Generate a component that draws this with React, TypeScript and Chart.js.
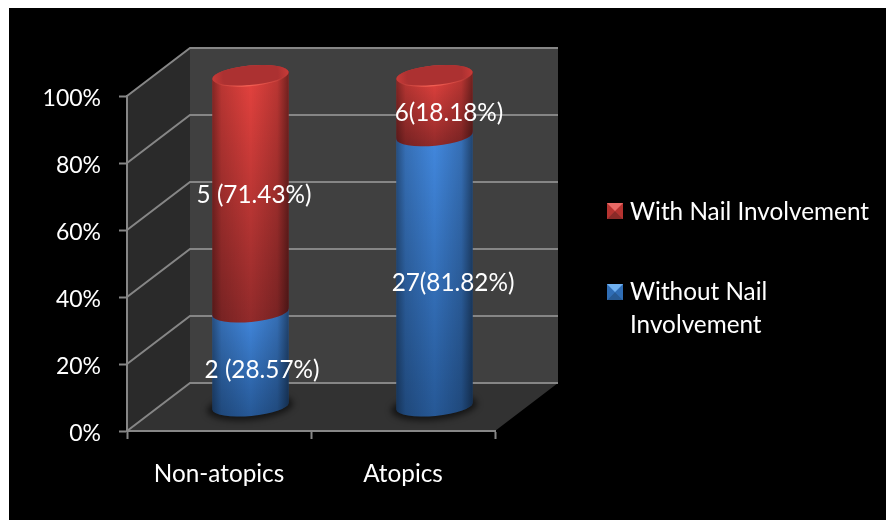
import React, { useEffect, useRef } from "react";
import { Chart, registerables } from "chart.js";

Chart.register(...registerables);

const categories = ["Non-atopics", "Atopics"];
const withoutNailPct = [28.57, 81.82];
const withNailPct = [71.43, 18.18];
const withoutNailLabels = ["2 (28.57%)", "27(81.82%)"];
const withNailLabels = ["5 (71.43%)", "6(18.18%)"];
const legendEntries = [
  { lines: ["With Nail Involvement"], tone: "red" },
  { lines: ["Without Nail", "Involvement"], tone: "blue" },
];
const yTicks = { min: 0, max: 100, step: 20 };

const FONT = "Lato, Carlito, 'Open Sans', sans-serif";
const FONT_SIZE = 24.3;
const Y_TICK_SIZE = 23;
const WIDTH = 886;
const HEIGHT = 520;

// Oblique projection of the box: how far the back wall sits from the front plane.
const DEPTH_X = 63;
const DEPTH_Y = 48;
const MID_X = 31.5;
const MID_Y = 24.5;
const RISE = 0.988;
const CAP_RY = 10;
const TILT = -0.092;

const GRID = "#868686";

const palette: any = {
  red: { top: "rgb(228,66,62)", bottom: "rgb(145,42,42)", cap: "#ac3131", rim: "#c83b38", hi: "255,105,90" },
  blue: { top: "rgb(66,136,222)", bottom: "rgb(38,88,150)", cap: "#2f6db5", rim: "#3c82d2", hi: "120,180,255" },
};

// Per-label nudges [x, y] from the middle of its segment, on the mid-depth plane.
const labelNudge = [
  [[11.5, 11], [3.5, 1]],
  [[18.5, 12], [14.5, 8]],
];

function polygon(ctx: CanvasRenderingContext2D, pts: number[][], fill: string) {
  ctx.beginPath();
  pts.forEach(([x, y], i) => (i ? ctx.lineTo(x, y) : ctx.moveTo(x, y)));
  ctx.closePath();
  ctx.fillStyle = fill;
  ctx.fill();
}

function drawBox(chart: any) {
  const { ctx, chartArea: a, scales } = chart;
  ctx.save();
  ctx.fillStyle = "#ffffff";
  ctx.fillRect(0, 0, WIDTH, HEIGHT);
  ctx.fillStyle = "#000000";
  ctx.fillRect(9, 8, WIDTH - 9, HEIGHT - 8);

  const { left: l, right: r, top: t, bottom: b } = a;
  polygon(ctx, [[l + DEPTH_X, t - DEPTH_Y], [r + DEPTH_X, t - DEPTH_Y], [r + DEPTH_X, b - DEPTH_Y], [l + DEPTH_X, b - DEPTH_Y]], "#404040");
  polygon(ctx, [[l, t], [l + DEPTH_X, t - DEPTH_Y], [l + DEPTH_X, b - DEPTH_Y], [l, b]], "#2a2a2a");
  polygon(ctx, [[l, b], [l + DEPTH_X, b - DEPTH_Y], [r + DEPTH_X, b - DEPTH_Y], [r, b]], "#323232");

  ctx.strokeStyle = GRID;
  ctx.lineWidth = 2;
  scales.y.ticks.forEach((tick: any) => {
    const y = scales.y.getPixelForValue(tick.value);
    ctx.beginPath();
    ctx.moveTo(l, y);
    ctx.lineTo(l + DEPTH_X, y - DEPTH_Y);
    ctx.lineTo(r + DEPTH_X, y - DEPTH_Y);
    ctx.stroke();
  });
  ctx.restore();
}

function drawSegment(ctx: CanvasRenderingContext2D, cx: number, yTop: number, yBase: number, width: number, tone: any, capped: boolean) {
  const rx = width / 2;
  const erx = rx / Math.cos(TILT);
  const lift = rx * Math.tan(TILT);

  const body = () => {
    ctx.beginPath();
    ctx.ellipse(cx, yBase, erx, CAP_RY, TILT, 0, Math.PI, false);
    ctx.lineTo(cx - rx, yTop - lift);
    ctx.ellipse(cx, yTop, erx, CAP_RY, TILT, Math.PI, 0, false);
    ctx.closePath();
  };

  const vertical = ctx.createLinearGradient(0, yTop, 0, yBase + CAP_RY);
  vertical.addColorStop(0, tone.top);
  vertical.addColorStop(1, tone.bottom);
  body();
  ctx.fillStyle = vertical;
  ctx.fill();

  const side = ctx.createLinearGradient(cx - rx, 0, cx + rx, 0);
  side.addColorStop(0, "rgba(0,0,0,0.42)");
  side.addColorStop(0.12, "rgba(0,0,0,0.18)");
  side.addColorStop(0.5, "rgba(0,0,0,0)");
  side.addColorStop(0.85, "rgba(0,0,0,0.18)");
  side.addColorStop(1, "rgba(0,0,0,0.5)");
  body();
  ctx.fillStyle = side;
  ctx.fill();

  if (capped) {
    const capFill = ctx.createRadialGradient(cx, yTop, 2, cx, yTop, erx);
    capFill.addColorStop(0, tone.cap);
    capFill.addColorStop(0.7, tone.cap);
    capFill.addColorStop(1, tone.rim);
    ctx.beginPath();
    ctx.ellipse(cx, yTop, erx, CAP_RY, TILT, 0, Math.PI * 2);
    ctx.fillStyle = capFill;
    ctx.fill();

    const glint = ctx.createLinearGradient(cx - rx, 0, cx + rx, 0);
    glint.addColorStop(0, `rgba(${tone.hi},0)`);
    glint.addColorStop(0.45, `rgba(${tone.hi},0.85)`);
    glint.addColorStop(1, `rgba(${tone.hi},0)`);
    ctx.beginPath();
    ctx.ellipse(cx, yTop, erx, CAP_RY, TILT, 0.25, Math.PI - 0.25, false);
    ctx.strokeStyle = glint;
    ctx.lineWidth = 1.2;
    ctx.stroke();
  }
}

function drawSwatch(ctx: CanvasRenderingContext2D, x: number, y: number, s: number, name: string) {
  const c = name === "red"
    ? { t: "#e86a66", m: "#d0413d", l: "#b53330", b: "#8a2a28" }
    : { t: "#6fb0f0", m: "#3f86d6", l: "#2f6db5", b: "#275a94" };
  const k = s / 2;
  polygon(ctx, [[x, y], [x + s, y], [x + s, y + s], [x, y + s]], c.m);
  polygon(ctx, [[x, y], [x + k, y + k], [x, y + s]], c.l);
  polygon(ctx, [[x + s, y], [x + k, y + k], [x + s, y + s]], c.l);
  polygon(ctx, [[x, y + s], [x + k, y + k], [x + s, y + s]], c.b);
  polygon(ctx, [[x, y], [x + s, y], [x + k, y + k]], c.t);
}

const cylinderPlugin = {
  id: "cylinders",
  beforeDraw: drawBox,
  beforeDatasetDraw: () => false,
  afterDatasetsDraw(chart: any) {
    const { ctx, scales } = chart;
    const zero = scales.y.getPixelForValue(0);
    const toRise = (py: number) => zero - MID_Y - (zero - py) * RISE;
    const lower = chart.getDatasetMeta(0).data;
    const upper = chart.getDatasetMeta(1).data;

    ctx.save();
    lower.forEach((bar: any) => {
      const { x, width } = bar.getProps(["x", "width"], true);
      ctx.save();
      ctx.filter = "blur(3px)";
      ctx.beginPath();
      ctx.ellipse(x + MID_X - 0.5, zero - MID_Y + 0.5, width / 2 + 5, CAP_RY + 3, TILT, 0, Math.PI * 2);
      ctx.fillStyle = "rgba(0,0,0,0.6)";
      ctx.fill();
      ctx.restore();
    });

    lower.forEach((bar: any) => {
      const p = bar.getProps(["x", "y", "base", "width"], true);
      drawSegment(ctx, p.x + MID_X, toRise(p.y), toRise(p.base), p.width, palette.blue, false);
    });
    upper.forEach((bar: any) => {
      const p = bar.getProps(["x", "y", "base", "width"], true);
      drawSegment(ctx, p.x + MID_X, toRise(p.y), toRise(p.base), p.width, palette.red, true);
    });

    ctx.font = `${FONT_SIZE}px ${FONT}`;
    ctx.fillStyle = "#ffffff";
    ctx.textAlign = "center";
    ctx.textBaseline = "middle";
    const texts = [withoutNailLabels, withNailLabels];
    [lower, upper].forEach((bars: any[], s) => {
      bars.forEach((bar: any, i) => {
        const p = bar.getProps(["x", "y", "base"], true);
        const [nx, ny] = labelNudge[i][s];
        ctx.fillText(texts[s][i], p.x + MID_X + nx, (toRise(p.y) + toRise(p.base)) / 2 + ny);
      });
    });

    // Legend: red entry above blue, with the long name wrapped on two lines.
    const swatchX = 607;
    const swatchY = [203, 284];
    const textX = 630;
    const lineGap = 33;
    const rowY = [212, 292];
    ctx.textAlign = "left";
    legendEntries.forEach((entry, i) => {
      drawSwatch(ctx, swatchX, swatchY[i], 16, entry.tone);
      ctx.fillStyle = "#ffffff";
      entry.lines.forEach((line, j) => ctx.fillText(line, textX, rowY[i] + j * lineGap));
    });
    ctx.restore();
  },
};

export default function App() {
  const ref = useRef<HTMLCanvasElement>(null);

  useEffect(() => {
    if (!ref.current) return;
    const chart = new Chart(ref.current, {
      type: "bar",
      data: {
        labels: categories,
        datasets: [
          { label: "Without Nail Involvement", data: withoutNailPct, backgroundColor: "#3f86d6", stack: "share" },
          { label: "With Nail Involvement", data: withNailPct, backgroundColor: "#d0413d", stack: "share" },
        ],
      },
      options: {
        responsive: false,
        animation: false,
        devicePixelRatio: 1,
        barPercentage: 1,
        categoryPercentage: 0.415,
        layout: { padding: { top: 96, right: WIDTH - 495, left: 0, bottom: 0 } },
        plugins: { legend: { display: false }, tooltip: { enabled: false }, title: { display: false } },
        scales: {
          x: {
            stacked: true,
            grid: { color: GRID, drawOnChartArea: false, tickLength: 8, tickWidth: 2 },
            border: { color: GRID, width: 2 },
            ticks: { color: "#ffffff", font: { family: FONT, size: FONT_SIZE }, padding: 21, maxRotation: 0 },
            afterFit: (s: any) => { s.height = HEIGHT - 431; },
          },
          y: {
            stacked: true,
            min: yTicks.min,
            max: yTicks.max,
            grid: { color: GRID, drawOnChartArea: false, tickLength: 8, tickWidth: 2 },
            border: { color: GRID, width: 2 },
            ticks: {
              color: "#ffffff",
              font: { family: FONT, size: Y_TICK_SIZE },
              padding: 18,
              labelOffset: 3,
              stepSize: yTicks.step,
              callback: (v: any) => `${v}%`,
            },
            afterFit: (s: any) => { s.width = 127; },
          },
        },
      },
      plugins: [cylinderPlugin],
    } as any);
    return () => chart.destroy();
  }, []);

  return (
    <div style={{ position: "fixed", left: 0, top: 0, width: WIDTH, height: HEIGHT, background: "#fff" }}>
      <canvas ref={ref} width={WIDTH} height={HEIGHT} style={{ display: "block" }} />
    </div>
  );
}
